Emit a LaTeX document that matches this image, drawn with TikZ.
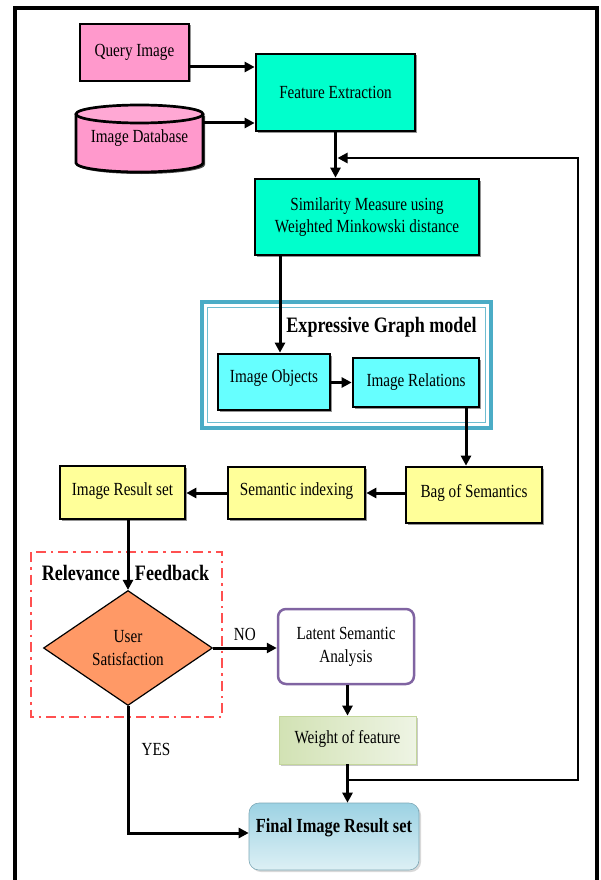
\documentclass[tikz,border=0pt]{standalone}
\usepackage{fontspec}
\setmainfont[FakeStretch=0.82]{Liberation Serif}
\usetikzlibrary{arrows.meta,shapes.geometric,shadows}
\definecolor{pinkf}{HTML}{FF99CC}
\definecolor{aquaf}{HTML}{00FFCC}
\definecolor{cyanf}{HTML}{66FFFF}
\definecolor{yellf}{HTML}{FFFF99}
\definecolor{orangef}{HTML}{FF9966}
\definecolor{purpled}{HTML}{8064A2}
\definecolor{tealb}{HTML}{4BACC6}
\definecolor{redd}{HTML}{FF5050}
\definecolor{greena}{HTML}{D2E2B4}
\definecolor{greenb}{HTML}{EEF4E4}
\definecolor{greenl}{HTML}{C3D69B}
\definecolor{bluea}{HTML}{9CD2E3}
\definecolor{blueb}{HTML}{DDF0F5}
\begin{document}
\begin{tikzpicture}[x=1pt,y=-1pt,
  txt/.style={font=\fontsize{18.5}{23}\selectfont},
  btxt/.style={font=\fontsize{22}{26}\selectfont\bfseries},
  box/.style={draw=black, line width=2.7pt, inner sep=2pt, align=center, txt,
     drop shadow={shadow xshift=1.5pt, shadow yshift=-1.5pt, opacity=0.6, fill=black!70}},
  arr/.style={line width=3pt, -{Triangle[length=10pt,width=10pt]}}]
\useasboundingbox (0,0) rectangle (600,880);
% outer frame
\draw[line width=4.5pt] (15,8) rectangle (597,900);

% Expressive Graph model container
\draw[tealb, line width=3.5pt] (202,302) rectangle (491,428);
\draw[tealb!80, line width=1pt] (207.5,307.5) rectangle (485.5,422.5);
\node[btxt] (egt) at (381.5,327) {Expressive Graph model};

% Relevance feedback container
\draw[redd, line width=2.5pt, dash pattern=on 10pt off 5pt on 2.5pt off 5pt] (31,552) rectangle (222,717);
\node[btxt, inner sep=1pt] (rft) at (125.5,573) {Relevance\hspace{15pt}Feedback};

% nodes
\node[box, fill=pinkf, minimum width=109pt, minimum height=57pt] (q) at (134.5,52.5) {Query Image};
\node[box, fill=aquaf, minimum width=159pt, minimum height=77pt] (fe) at (335.5,92.5) {Feature Extraction};

% database cylinder
\node[txt, minimum width=127pt, minimum height=67pt, inner sep=0pt] (db) at (139.5,138.5) {};
\fill[black!70] (78,116) rectangle (205,165) (141.5,165) ellipse [x radius=63.5pt, y radius=9pt];
\fill[pinkf] (76,114) rectangle (203,163) (139.5,163) ellipse [x radius=63.5pt, y radius=9pt];
\draw[line width=2.7pt] (76,114) -- (76,163) arc[start angle=180, end angle=360, x radius=63.5pt, y radius=9pt] -- (203,114);
\draw[line width=2.7pt, fill=pinkf!85!white] (139.5,114) ellipse [x radius=63.5pt, y radius=9pt];
\node[txt] (dbt) at (db.center) {Image Database};

\node[box, fill=aquaf, minimum width=224pt, minimum height=76pt] (sim) at (367,217) {Similarity Measure using\\[-1pt]Weighted Minkowski distance};

\node[box, fill=cyanf, minimum width=112pt, minimum height=56pt, text height=14pt, text depth=14pt] (io) at (274,382) {Image Objects};
\node[box, fill=cyanf, minimum width=126pt, minimum height=49pt] (ir) at (416,382.5) {Image Relations};

\node[box, fill=yellf, minimum width=136pt, minimum height=56pt, text height=14pt, text depth=9pt] (bag) at (474,495) {Bag of Semantics};
\node[box, fill=yellf, minimum width=137pt, minimum height=52pt, text height=14pt, text depth=10pt] (si) at (296.5,493) {Semantic indexing};
\node[box, fill=yellf, minimum width=125pt, minimum height=53pt, text height=14pt, text depth=9pt] (irs) at (122.5,492.5) {Image Result set};

\node[diamond, draw=black, line width=1.2pt, fill=orangef, aspect=1.47, minimum width=169pt, minimum height=115pt, inner sep=0pt, align=center, txt] (dia) at (128,648) {User\\Satisfaction};

\node[draw=purpled, line width=2.5pt, rounded corners=8pt, fill=white, minimum width=136pt, minimum height=75pt, align=center, txt, inner sep=2pt] (lsa) at (346,646.5) {Latent Semantic\\Analysis};

\node[draw=greenl, line width=0.8pt, left color=greena, right color=greenb, minimum width=137pt, minimum height=48pt, txt, text height=14pt, text depth=7pt,
  drop shadow={shadow xshift=2pt, shadow yshift=-2pt, opacity=0.35, fill=black!60}] (wf) at (347.5,740) {Weight of feature};

\node[draw=bluea!80!black, line width=0.6pt, rounded corners=10pt, shading=axis, shading angle=135, top color=bluea, bottom color=blueb,
  minimum width=170pt, minimum height=67pt, font=\fontsize{20}{24}\selectfont\bfseries, text height=14pt, text depth=22pt,
  drop shadow={shadow xshift=2pt, shadow yshift=-2pt, opacity=0.3, fill=black!50}] (fin) at (334,836.5) {Final Image Result set};

% connectors
\coordinate (qa) at ([yshift=-14.5pt]q.east);
\draw[arr] (qa) -- (qa -| fe.west);
\coordinate (dba) at ([yshift=15.5pt]db.east);
\draw[arr] (dba) -- (dba -| fe.west);
\draw[arr] (fe.south) -- (fe.south |- sim.north);
\coordinate (sa) at ([xshift=-87pt]sim.south);
\draw[arr] (sa) -- (sa |- io.north);
\draw[arr] (io.east |- ir.west) -- (ir.west);
\coordinate (ra) at ([xshift=50pt]ir.south);
\draw[arr] (ra) -- (ra |- bag.north);
\draw[arr] (bag.west |- si.east) -- (si.east);
\draw[arr] (si.west) -- (si.west -| irs.east);
\draw[arr] (irs.south -| dia.north) -- (dia.north);
\draw[arr] (dia.east) -- (dia.east -| lsa.west) node[pos=0.5, above=6pt, txt, inner sep=0pt] (no) {NO};
\draw[arr] (wf.north |- lsa.south) -- (wf.north);
\draw[arr] (wf.south) -- (wf.south |- fin.north);
\coordinate (lp1) at (578,780);
\coordinate (lp2) at (578,158);
\draw[line width=2.5pt, -{Triangle[length=10pt,width=10pt]}] (wf.south |- lp1) -- (lp1) -- (lp2) -- ([xshift=2pt]lp2 -| fe.south);
\coordinate (yc) at (dia.south |- 0,833);
\draw[arr] (dia.south) -- (yc) -- (yc -| fin.west);
\node[txt] (yes) at (156,749) {YES};
\end{tikzpicture}
\end{document}
